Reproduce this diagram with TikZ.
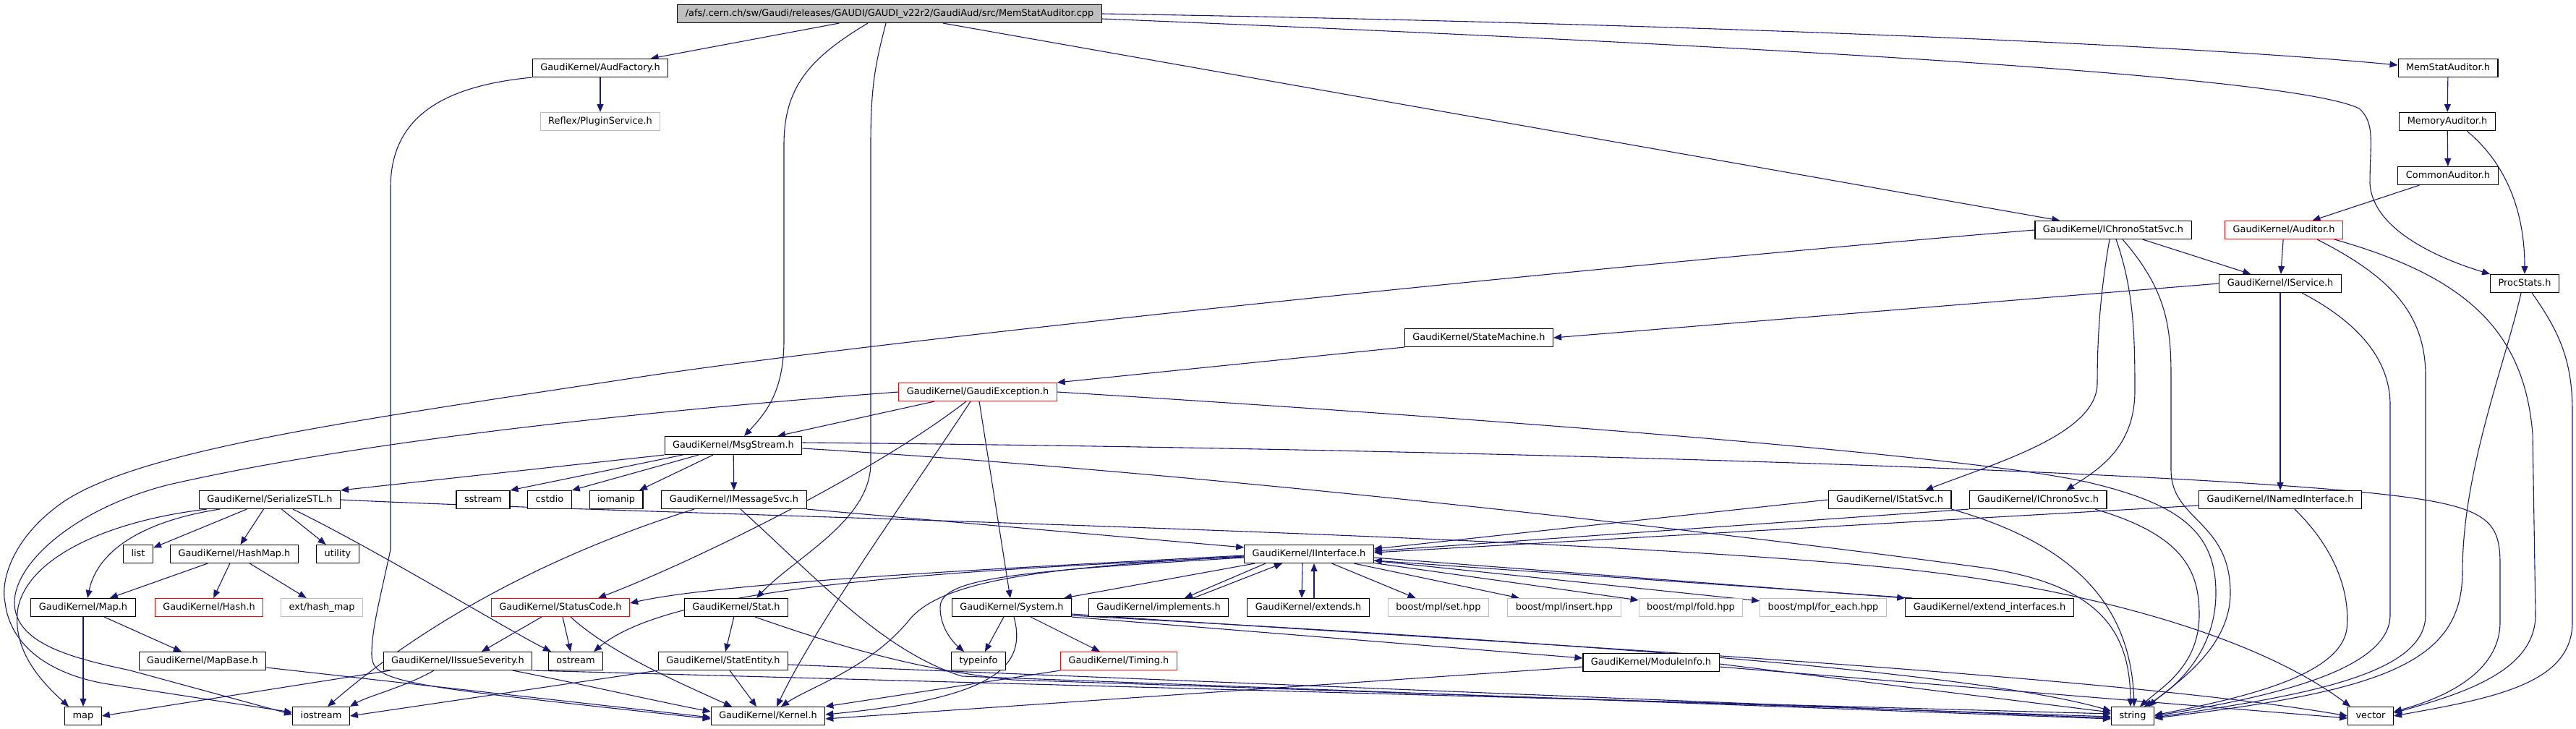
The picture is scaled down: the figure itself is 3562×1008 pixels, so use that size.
\documentclass[tikz,border=0pt]{standalone}
\usepackage{fontspec}
\setmainfont{DejaVu Sans}
\usetikzlibrary{arrows.meta}
\definecolor{incblue}{HTML}{191970}
\definecolor{hgrayc}{HTML}{BFBFBF}
\pgfdeclarelayer{bg}
\pgfsetlayers{bg,main}

\begin{document}
\begin{tikzpicture}[x=1pt, y=-1pt,
  hfile/.style={draw, fill=white, line width=1.1pt, inner xsep=11pt, inner ysep=0pt, minimum height=25pt,
    text height=9.6pt, text depth=2.6pt, font=\fontsize{12.9}{14}\selectfont},
  hred/.style={hfile, draw=red},
  hgray/.style={hfile, draw=hgrayc},
  hroot/.style={hfile, fill=hgrayc},
  inc/.style={draw=incblue, line width=1.1pt, -{Triangle[length=11pt,width=9pt]}}]
  \useasboundingbox (0,0) rectangle (3562,1008);

  \node[hroot] (root) at (1230,19) {/afs/.cern.ch/sw/Gaudi/releases/GAUDI/GAUDI\_v22r2/GaudiAud/src/MemStatAuditor.cpp};
  \node[hfile] (audf)     at (830,94)   {GaudiKernel/AudFactory.h};
  \node[hfile] (memstat)  at (3385,94)  {MemStatAuditor.h};
  \node[hgray] (reflex)   at (830,168)  {Reflex/PluginService.h};
  \node[hfile] (memaud)   at (3384,168) {MemoryAuditor.h};
  \node[hfile] (common)   at (3385,243) {CommonAuditor.h};
  \node[hfile] (ichronostat) at (2922,318) {GaudiKernel/IChronoStatSvc.h};
  \node[hred]  (auditor)  at (3158,318) {GaudiKernel/Auditor.h};
  \node[hfile] (iservice) at (3153,392) {GaudiKernel/IService.h};
  \node[hfile] (procstats) at (3491,392) {ProcStats.h};
  \node[hfile] (statemach) at (2045,467) {GaudiKernel/StateMachine.h};
  \node[hred]  (gexcept)  at (1352,542) {GaudiKernel/GaudiException.h};
  \node[hfile] (msgstream) at (1014,616) {GaudiKernel/MsgStream.h};

  \node[hfile] (serial)   at (373,691)  {GaudiKernel/SerializeSTL.h};
  \node[hfile] (sstream)  at (668,691)  {sstream};
  \node[hfile] (cstdio)   at (760,691)  {cstdio};
  \node[hfile] (iomanip)  at (852,691)  {iomanip};
  \node[hfile] (imsgsvc)  at (1015,691) {GaudiKernel/IMessageSvc.h};
  \node[hfile] (istatsvc) at (2613,691) {GaudiKernel/IStatSvc.h};
  \node[hfile] (ichronosvc) at (2818,691) {GaudiKernel/IChronoSvc.h};
  \node[hfile] (inamed)   at (3153,691) {GaudiKernel/INamedInterface.h};

  \node[hfile] (list)     at (191,766)  {list};
  \node[hfile] (hashmap)  at (324,766)  {GaudiKernel/HashMap.h};
  \node[hfile] (utility)  at (467,766)  {utility};
  \node[hfile] (iinterface) at (1810,766) {GaudiKernel/IInterface.h};

  \node[hfile] (mapgk)    at (115,840)  {GaudiKernel/Map.h};
  \node[hred]  (hash)     at (289,840)  {GaudiKernel/Hash.h};
  \node[hgray] (exthash)  at (445,840)  {ext/hash\_map};
  \node[hred]  (statuscode) at (775,840) {GaudiKernel/StatusCode.h};
  \node[hfile] (stat)     at (1018,840) {GaudiKernel/Stat.h};
  \node[hfile] (system)   at (1399,840) {GaudiKernel/System.h};
  \node[hfile] (implements) at (1602,840) {GaudiKernel/implements.h};
  \node[hfile] (extends)  at (1809,840) {GaudiKernel/extends.h};
  \node[hgray] (mplset)   at (1989,840) {boost/mpl/set.hpp};
  \node[hgray] (mplinsert) at (2163,840) {boost/mpl/insert.hpp};
  \node[hgray] (mplfold)  at (2338,840) {boost/mpl/fold.hpp};
  \node[hgray] (mplforeach) at (2521,840) {boost/mpl/for\_each.hpp};
  \node[hfile] (extendif) at (2751,840) {GaudiKernel/extend\_interfaces.h};

  \node[hfile] (mapbase)  at (280,914)  {GaudiKernel/MapBase.h};
  \node[hfile] (issue)    at (633,914)  {GaudiKernel/IIssueSeverity.h};
  \node[hfile] (ostream)  at (796,914)  {ostream};
  \node[hfile] (statentity) at (1000,914) {GaudiKernel/StatEntity.h};
  \node[hfile] (typeinfo) at (1353,914) {typeinfo};
  \node[hred]  (timing)   at (1547,914) {GaudiKernel/Timing.h};
  \node[hfile] (moduleinfo) at (2283,916) {GaudiKernel/ModuleInfo.h};

  \node[hfile] (map)      at (115,990)  {map};
  \node[hfile] (iostream) at (444,990)  {iostream};
  \node[hfile] (kernel)   at (1062,990) {GaudiKernel/Kernel.h};
  \node[hfile] (string)   at (2949,990) {string};
  \node[hfile] (vector)   at (3278,990) {vector};

  \begin{pgfonlayer}{bg}
  % includes of the .cpp file
  \draw[inc] (root) -- (audf);
  \draw[inc] (root.east) .. controls (2300,32) and (3000,60) .. ([yshift=4]memstat.west);
  \draw[inc] ([yshift=-7]root.east) .. controls (2600,70) and (3180,110) .. (3262,150) .. controls (3285,170) and (3277,200) .. (3277,253) .. controls (3280,320) and (3380,360) .. (procstats.north west);
  \draw[inc] ([xshift=-30]root.south) .. controls (1120,80) and (1084,120) .. (1084,200) -- (1084,470) .. controls (1084,540) and (1060,570) .. ([xshift=15]msgstream.north);
  \draw[inc] ([xshift=-5]root.south) .. controls (1210,90) and (1204,120) .. (1204,200) -- (1204,640) .. controls (1204,720) and (1100,770) .. ([xshift=28]stat.north);
  \draw[inc] (root) -- (ichronostat);

  \draw[inc] (audf) -- (reflex);
  \draw[inc] (audf.south west) .. controls (600,120) and (540,170) .. (540,260) -- (540,760) .. controls (525,830) and (514,870) .. (514,905) .. controls (514,945) and (560,948) .. ([yshift=-4]kernel.west);

  \draw[inc] (memstat) -- (memaud);
  \draw[inc] (memaud) -- (common);
  \draw[inc] ([xshift=27]memaud.south) .. controls (3470,230) and (3491,300) .. (procstats.north);
  \draw[inc] (common) -- (auditor);
  \draw[inc] (auditor) -- (iservice);
  \draw[inc] ([xshift=46]auditor.south) .. controls (3300,380) and (3354,430) .. (3354,520) -- (3354,850) .. controls (3354,930) and (3200,960) .. ([yshift=-2]string.east);
  \draw[inc] ([xshift=70]auditor.south) .. controls (3400,380) and (3490,450) .. (3502,600) -- (3506,850) .. controls (3506,930) and (3400,960) .. ([yshift=4]vector.east);

  \draw[inc] (ichronostat) -- (iservice);
  \draw[inc] ([xshift=-5]ichronostat.south) .. controls (2905,400) and (2900,460) .. (2900,530) .. controls (2900,600) and (2760,640) .. ([xshift=49]istatsvc.north);
  \draw[inc] ([xshift=4]ichronostat.south) .. controls (2950,400) and (2952,460) .. (2952,540) .. controls (2952,620) and (2900,650) .. ([xshift=39]ichronosvc.north);
  \draw[inc] ([xshift=13]ichronostat.south) .. controls (2995,400) and (3002,450) .. (3002,520) -- (3002,650) .. controls (3002,720) and (3084,720) .. (3084,820) .. controls (3084,900) and (3000,950) .. ([xshift=22]string.north);
  \draw[inc] (ichronostat.west) .. controls (2300,360) and (1300,460) .. (900,519) .. controls (500,580) and (200,620) .. (89,693) .. controls (20,740) and (0,800) .. (7,833) .. controls (15,900) and (80,935) .. (150,946) -- ([yshift=5]iostream.west);

  \draw[inc] (iservice.west) -- (statemach.east);
  \draw[inc] (iservice) -- (inamed);
  \draw[inc] ([xshift=30]iservice.south) .. controls (3250,440) and (3305,490) .. (3305,560) -- (3305,850) .. controls (3305,925) and (3150,962) .. (string.east);
  \draw[inc] ([xshift=-5]procstats.south) .. controls (3465,500) and (3405,650) .. (3405,790) .. controls (3405,915) and (3300,955) .. ([yshift=-3]string.east);
  \draw[inc] ([xshift=10]procstats.south) .. controls (3540,460) and (3557,500) .. (3557,570) -- (3557,860) .. controls (3557,945) and (3450,965) .. (vector.east);

  \draw[inc] (statemach.south west) -- (gexcept.north east);
  \draw[inc] ([xshift=-60]gexcept.south) -- ([xshift=61]msgstream.north);
  \draw[inc] ([xshift=-16]gexcept.south) .. controls (1200,660) and (950,780) .. ([xshift=52]statuscode.north);
  \draw[inc] ([xshift=-10]gexcept.south) .. controls (1260,680) and (1130,860) .. ([xshift=12]kernel.north);
  \draw[inc] (gexcept) -- (system);
  \draw[inc] (gexcept.east) .. controls (2000,575) and (2750,630) .. (2900,670) .. controls (3020,700) and (3064,740) .. (3064,820) .. controls (3064,900) and (3010,950) .. ([xshift=16]string.north);
  \draw[inc] (gexcept.west) .. controls (800,575) and (450,620) .. (230,671) .. controls (100,705) and (20,780) .. (20,833) .. controls (20,890) and (100,910) .. (180,927) -- ([yshift=2]iostream.west);

  \draw[inc] (msgstream.south west) -- (serial.north east);
  \draw[inc] ([xshift=-70]msgstream.south) -- (sstream.north east);
  \draw[inc] ([xshift=-48]msgstream.south) -- (cstdio.north east);
  \draw[inc] ([xshift=-28]msgstream.south) -- ([xshift=32]iomanip.north);
  \draw[inc] (msgstream) -- (imsgsvc);
  \draw[inc] ([yshift=4]msgstream.east) .. controls (2000,620) and (3000,650) .. (3300,684) .. controls (3440,700) and (3457,720) .. (3457,780) -- (3457,860) .. controls (3457,930) and (3380,965) .. ([yshift=6]vector.east);
  \draw[inc] ([yshift=-4]msgstream.east) .. controls (1700,655) and (2450,745) .. (2750,786) .. controls (2900,810) and (2945,870) .. ([xshift=-3]string.north);

  \draw[inc] ([xshift=-87]serial.south) .. controls (150,720) and (40,770) .. (25,840) .. controls (15,900) and (60,945) .. ([xshift=-20]map.north);
  \draw[inc] ([xshift=-69]serial.south) .. controls (200,720) and (135,760) .. ([xshift=6]mapgk.north);
  \draw[inc] (serial) -- (list);
  \draw[inc] (serial) -- (hashmap);
  \draw[inc] (serial) -- (utility);
  \draw[inc] ([xshift=32]serial.south) .. controls (520,760) and (700,870) .. ([xshift=-34]ostream.north);
  \draw[inc] (serial.east) .. controls (900,712) and (2300,740) .. (2700,795) .. controls (2900,822) and (3120,880) .. ([xshift=-28]vector.north);

  \draw[inc] (imsgsvc.south east) -- ([yshift=9]iinterface.west);
  \draw[inc] ([xshift=-55]imsgsvc.south) .. controls (780,760) and (600,850) .. ([xshift=9]iostream.north);
  \draw[inc] ([xshift=9]imsgsvc.south) .. controls (1130,800) and (1220,900) .. (1330,935) -- ([yshift=-4]string.west);
  \draw[inc] (istatsvc.west) -- ([yshift=7]iinterface.east);
  \draw[inc] (istatsvc.south east) .. controls (2860,750) and (2946,830) .. ([xshift=2]string.north);
  \draw[inc] (ichronosvc.south west) -- ([yshift=4]iinterface.east);
  \draw[inc] ([xshift=79]ichronosvc.south) .. controls (3020,740) and (3041,790) .. (3041,850) .. controls (3041,920) and (2990,950) .. ([xshift=10]string.north);
  \draw[inc] ([yshift=-8]inamed.west) -- ([yshift=2]iinterface.east);
  \draw[inc] ([xshift=20]inamed.south) .. controls (3230,760) and (3250,820) .. (3245,870) .. controls (3235,935) and (3100,965) .. ([yshift=1]string.east);

  % IInterface.h
  \draw[inc] ([yshift=-2]iinterface.west) .. controls (1400,785) and (1000,805) .. ([yshift=6]statuscode.east);
  \draw[inc] ([yshift=-4]iinterface.west) .. controls (1300,790) and (930,810) .. ([xshift=25]ostream.north);
  \draw[inc] ([yshift=-5]iinterface.west) .. controls (1400,790) and (1300,800) .. (1300,840) .. controls (1300,870) and (1320,890) .. ([xshift=-20]typeinfo.north);
  \draw[inc] ([yshift=-3]iinterface.west) .. controls (1450,785) and (1300,800) .. (1255,860) .. controls (1200,925) and (1120,950) .. ([xshift=18]kernel.north);
  \draw[inc] ([xshift=-75]iinterface.south) -- ([xshift=72]system.north);
  \draw[inc] ([xshift=-60]iinterface.south) -- ([xshift=36]implements.north);
  \draw[inc] ([xshift=48]implements.north) -- ([xshift=-37]iinterface.south);
  \draw[inc] ([xshift=-9]iinterface.south) -- ([xshift=-9]extends.north);
  \draw[inc] ([xshift=8]extends.north) -- ([xshift=7]iinterface.south);
  \draw[inc] (iinterface) -- (mplset);
  \draw[inc] (iinterface) -- (mplinsert);
  \draw[inc] (iinterface) -- (mplfold);
  \draw[inc] (iinterface) -- (mplforeach);
  \draw[inc] ([yshift=-5]iinterface.east) -- (extendif.north west);
  \draw[inc] ([xshift=10]extendif.north west) -- ([yshift=-9]iinterface.east);

  \draw[inc] (hashmap) -- (mapgk);
  \draw[inc] (hashmap) -- (hash);
  \draw[inc] (hashmap) -- (exthash);
  \draw[inc] (mapgk) -- (map);
  \draw[inc] (mapgk) -- (mapbase);
  \draw[inc] ([yshift=-9]mapbase.east) -- ([yshift=-2]kernel.west);

  \draw[inc] ([xshift=-26]statuscode.south) -- ([xshift=33]issue.north);
  \draw[inc] ([xshift=3]statuscode.south) -- ([xshift=-7]ostream.north);
  \draw[inc] ([xshift=14]statuscode.south) .. controls (840,900) and (930,940) .. ([xshift=-50]kernel.north);
  \draw[inc] ([xshift=-93]issue.south) -- (map.east);
  \draw[inc] ([xshift=-33]issue.south) .. controls (560,950) and (510,962) .. (iostream.north east);
  \draw[inc] ([xshift=76]issue.south) .. controls (800,945) and (900,968) .. ([yshift=6]kernel.west);
  \draw[inc] (issue.south east) -- ([yshift=3]string.west);

  \draw[inc] (stat) -- (statentity);
  \draw[inc] ([xshift=26]stat.south) .. controls (1150,890) and (1260,925) .. (1400,940) -- ([yshift=-1]string.west);
  \draw[inc] ([xshift=9]statentity.south) -- ([xshift=-16]kernel.north);
  \draw[inc] ([yshift=-5]statentity.east) -- ([yshift=-3]string.west);
  \draw[inc] (statentity.south west) -- (iostream.east);

  \draw[inc] ([xshift=-11]system.south) -- ([xshift=9]typeinfo.north);
  \draw[inc] ([xshift=3]system.south) .. controls (1420,920) and (1380,965) .. ([yshift=2]kernel.east);
  \draw[inc] (system) -- (timing);
  \draw[inc] (system.south east) -- ([yshift=6]moduleinfo.west);
  \draw[inc] ([yshift=-11]system.east) .. controls (2000,880) and (2700,920) .. ([yshift=7]string.west);
  \draw[inc] ([yshift=-9]system.east) .. controls (2000,885) and (2900,930) .. (vector.west);
  \draw[inc] (timing.south west) -- (kernel.north east);
  \draw[inc] ([yshift=-6]moduleinfo.west) -- ([yshift=-4]kernel.east);
  \draw[inc] ([yshift=-2]moduleinfo.east) -- ([yshift=5]string.west);
  \draw[inc] ([yshift=-6]moduleinfo.east) -- ([yshift=-3]vector.west);
  \end{pgfonlayer}
\end{tikzpicture}
\end{document}
